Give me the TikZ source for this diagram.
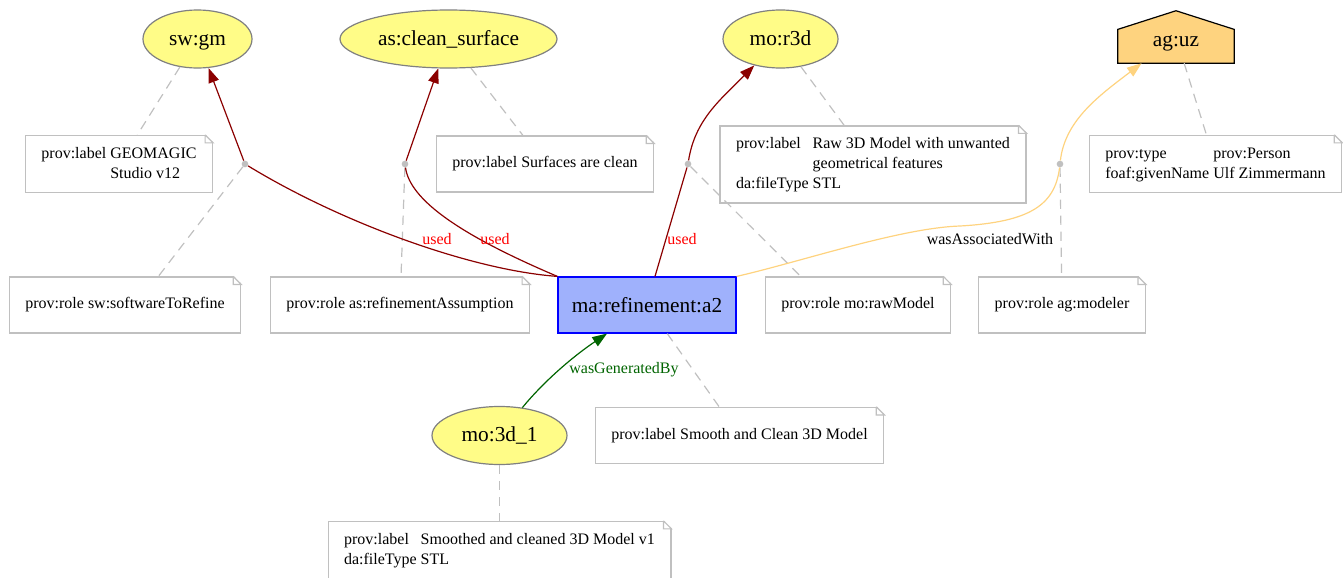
\documentclass[tikz,border=0pt]{standalone}
\usepackage{fontspec}
\setmainfont{Liberation Serif}
\usetikzlibrary{
  arrows.meta,
  shapes.geometric,
  backgrounds
}
\definecolor{provyellow}{HTML}{FFFC87}
\definecolor{provblue}{HTML}{9FB1FC}
\definecolor{provorange}{HTML}{FED37F}
\definecolor{provgray}{HTML}{808080}
\definecolor{provlight}{HTML}{C0C0C0}
\definecolor{provred}{HTML}{8B0000}
\definecolor{provgreen}{HTML}{006400}

\begin{document}
\begin{tikzpicture}[
      x=0.75pt, y=-0.75pt,
      entity/.style={
        ellipse, draw=provgray, fill=provyellow, line width=0.9pt,
        minimum height=43.5pt, inner sep=0pt,
        text height=9.5pt, text depth=0pt,
        font=\fontsize{16}{19}\selectfont
      },
      activity/.style={
        rectangle, draw=blue, fill=provblue, line width=0.9pt,
        minimum width=133.5pt, minimum height=42pt,
        font=\fontsize{16}{19}\selectfont
      },
      agent/.style={
        rectangle, minimum width=87pt, minimum height=39pt,
        text height=13.5pt, text depth=0pt, inner ysep=0pt,
        font=\fontsize{16}{19}\selectfont
      },
      note/.style={
        rectangle, draw=provlight, fill=white, line width=0.9pt,
        minimum height=42pt, inner xsep=12pt, inner ysep=6.4pt,
        align=left, font=\fontsize{12}{15}\selectfont
      },
      bnode/.style={circle, fill=provlight, inner sep=0pt, minimum size=5pt},
      attr/.style={provlight, line width=0.9pt, dash pattern=on 7pt off 5pt},
      used/.style={provred, line width=0.9pt},
      usedarrow/.style={used, -{Triangle[length=11pt, width=8pt]}},
      assoc/.style={provorange, line width=0.9pt},
      genarrow/.style={provgreen, line width=0.9pt, -{Triangle[length=11pt, width=8pt]}},
      lbl/.style={font=\fontsize{12}{15}\selectfont}
    ]
      \useasboundingbox (0,0) rectangle (1343,578);

      % Entities
      \node[entity, minimum width=81.75pt] (swgm) at (197.5,39) {sw:gm};
      \node[entity, minimum width=162.75pt] (clean) at (448.5,39) {as:clean\_surface};
      \node[entity, minimum width=86.25pt] (r3d) at (780.5,39) {mo:r3d};
      \node[entity, minimum width=101.25pt] (mo3d) at (499.5,435.5) {mo:3d\_1};

      % Agent
      \node[agent] (aguz) at (1176,37) {ag:uz};
      \begin{scope}[on background layer]
        \draw[fill=provorange, line width=0.9pt] (aguz.south west) -- (aguz.south east)
          -- ([yshift=-14pt]aguz.north east) -- (aguz.north)
          -- ([yshift=-14pt]aguz.north west) -- cycle;
      \end{scope}

      % Activity
      \node[activity] (a2) at (647,305) {ma:refinement:a2};

      % Blank nodes
      \node[bnode] (bSw) at (245,164) {};
      \node[bnode] (bAs) at (405,164) {};
      \node[bnode] (bMo) at (688,164) {};
      \node[bnode] (bAg) at (1060,164) {};

      % Notes
      \node[note] (geoNote) at (119,164) {\begin{tabular}{@{}l@{\hspace{3pt}}l@{}}prov:label & GEOMAGIC\\ & Studio v12\end{tabular}};
      \node[note] (surfNote) at (545,164) {prov:label Surfaces are clean};
      \node[note] (r3dNote) at (873,164.5) {\begin{tabular}{@{}l@{\hspace{3pt}}l@{}}prov:label & Raw 3D Model with unwanted\\ & geometrical features\\ da:fileType & STL\end{tabular}};
      \node[note] (personNote) at (1215.5,164) {\begin{tabular}{@{}l@{\hspace{3pt}}l@{}}prov:type & prov:Person\\ foaf:givenName & Ulf Zimmermann\end{tabular}};
      \node[note] (swRole) at (125,305) {prov:role sw:softwareToRefine};
      \node[note] (asRole) at (400,305) {prov:role as:refinementAssumption};
      \node[note] (moRole) at (858,305) {prov:role mo:rawModel};
      \node[note] (agRole) at (1062,305) {prov:role ag:modeler};
      \node[note] (smoothNote) at (739.5,435.5) {prov:label Smooth and Clean 3D Model};
      \node[note] (d3Note) at (499.5,550) {\begin{tabular}{@{}l@{\hspace{3pt}}l@{}}prov:label & Smoothed and cleaned 3D Model v1\\ da:fileType & STL\end{tabular}};

      % Folded corners
      \foreach \n in {geoNote, surfNote, r3dNote, personNote, swRole, asRole, moRole, agRole, smoothNote, d3Note} {
        \fill[white] ([xshift=-6pt, yshift=0.7pt]\n.north east) -- ([xshift=0.7pt, yshift=0.7pt]\n.north east)
          -- ([xshift=0.7pt, yshift=-6pt]\n.north east) -- cycle;
        \draw[provlight, line width=0.9pt] ([xshift=-6pt]\n.north east) |- ([yshift=-6pt]\n.north east)
          -- ([xshift=-6pt]\n.north east);
      }

      % Attribute links
      \draw[attr] (swgm) -- (geoNote);
      \draw[attr] (clean) -- (surfNote);
      \draw[attr] (r3d) -- (r3dNote);
      \draw[attr] (aguz) -- (personNote);
      \draw[attr] (bSw) -- ([xshift=25pt]swRole.north);
      \draw[attr] (bAs) -- (asRole);
      \draw[attr] (bMo) -- ([xshift=-43pt]moRole.north);
      \draw[attr] (bAg) -- (agRole);
      \draw[attr] (a2) -- (smoothNote);
      \draw[attr] (mo3d) -- (d3Note);

      % used
      \draw[used] (a2.north west) .. controls (470,270) and (340,222) .. (bSw);
      \draw[usedarrow] (bSw) -- (swgm);
      \draw[used] (a2.north west) .. controls (460,235) and (410,200) .. (bAs);
      \draw[usedarrow] (bAs) -- (clean);
      \draw[used] ([xshift=6pt]a2.north) -- (bMo);
      \draw[usedarrow] (bMo) .. controls (695,120) and (720,100) .. (r3d);

      % wasAssociatedWith
      \draw[assoc] (a2.north east) .. controls (800,262) and (900,228) .. (960,226)
        .. controls (1030,222) and (1055,205) .. (bAg);
      \draw[assoc, -{Triangle[length=11pt, width=8pt]}] (bAg) .. controls (1065,120) and (1100,95) .. (aguz);

      % wasGeneratedBy
      \draw[genarrow] (mo3d) .. controls (545,380) and (575,355) .. ([xshift=-30pt]a2.south);

      % Labels
      \node[lbl, text=red] (usedSw) at (437,239) {used};
      \node[lbl, text=red] (usedAs) at (495,239) {used};
      \node[lbl, text=red] (usedMo) at (682,239) {used};
      \node[lbl] (assocLbl) at (990,239) {wasAssociatedWith};
      \node[lbl, text=provgreen] (genLbl) at (624,370) {wasGeneratedBy};
    \end{tikzpicture}
\end{document}
